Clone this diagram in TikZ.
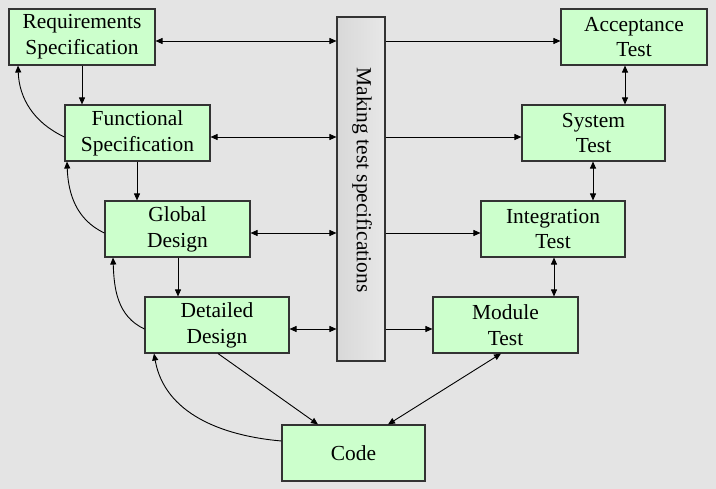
\documentclass[tikz,border=0pt]{standalone}
\usepackage{fontspec}
\setmainfont{Liberation Serif}
\usetikzlibrary{arrows.meta}
\definecolor{bgc}{HTML}{E4E4E4}
\definecolor{boxg}{HTML}{CCFFCC}
\definecolor{barg}{HTML}{D8D8D8}
\tikzset{
  box/.style={draw=black!80, line width=1.1bp, fill=boxg, align=center, font=\fontsize{21.5}{26}\selectfont, inner sep=0pt},
  con/.style={line width=0.9bp, -{Triangle[length=7bp,width=6bp]}},
  bicon/.style={line width=0.9bp, {Triangle[length=7bp,width=6bp]}-{Triangle[length=7bp,width=6bp]}},
}
\newcommand{\mybox}[6]{\node[box, minimum width={(#4-#2)*1bp}, minimum height={(#5-#3)*1bp}] (#1) at ({(#2+#4)/2},{(#3+#5)/2}) {#6};}
\begin{document}
\begin{tikzpicture}[x=1bp,y=-1bp]
\fill[bgc] (0,0) rectangle (716,489);
\useasboundingbox (0,0) rectangle (716,489);
\mybox{req}{9}{9}{155}{65}{Requirements\\Specification}
\mybox{func}{65}{105}{210}{161}{Functional\\Specification}
\mybox{glob}{105}{201}{250}{257}{Global\\Design}
\mybox{det}{145}{297}{289}{353}{Detailed\\Design}
\mybox{code}{282}{425}{425}{481}{Code}
\mybox{mod}{433}{297}{578}{353}{Module\\Test}
\mybox{integ}{481}{201}{625}{257}{Integration\\Test}
\mybox{sys}{522}{105}{665}{161}{System\\Test}
\mybox{acc}{561}{9}{707}{65}{Acceptance\\Test}
\node[draw=black!80, line width=1.1bp, left color=barg, right color=barg!60, minimum width=48bp, minimum height=344bp, inner sep=0pt] (bar) at (361,189) {};
\node[rotate=-90, font=\fontsize{21.5}{26}\selectfont] (bartxt) at (362,180) {Making test specifications};
% left side to bar
\draw[bicon] (req.east |- 0,41) -- (bar.west |- 0,41);
\draw[bicon] (func.east |- 0,137) -- (bar.west |- 0,137);
\draw[bicon] (glob.east |- 0,233) -- (bar.west |- 0,233);
\draw[bicon] (det.east |- 0,329) -- (bar.west |- 0,329);
% bar to tests
\draw[con] (bar.east |- 0,41) -- (acc.west |- 0,41);
\draw[con] (bar.east |- 0,137) -- (sys.west |- 0,137);
\draw[con] (bar.east |- 0,233) -- (integ.west |- 0,233);
\draw[con] (bar.east |- 0,329) -- (mod.west |- 0,329);
% down the left
\draw[con] (req.south -| 82,0) -- (func.north -| 82,0);
\draw[con] (func.south -| 137,0) -- (glob.north -| 137,0);
\draw[con] (glob.south -| 178,0) -- (det.north -| 178,0);
\draw[con] (det.south -| 218,0) -- (code.north -| 318,0);
% feedback curves
\draw[con] (func.west |- 0,137) to[out=155,in=-88] (req.south -| 18,0);
\draw[con] (glob.west |- 0,233) to[out=155,in=-88] (func.south -| 67,0);
\draw[con] (det.west |- 0,329) to[out=155,in=-88] (glob.south -| 113,0);
\draw[con] (code.west |- 0,441) to[out=175,in=-80] (det.south -| 154,0);
% up the right
\draw[bicon] (code.north -| 388,0) -- (mod.south -| 501,0);
\draw[bicon] (mod.north -| 554,0) -- (integ.south -| 554,0);
\draw[bicon] (integ.north -| 593,0) -- (sys.south -| 593,0);
\draw[bicon] (sys.north -| 625,0) -- (acc.south -| 625,0);
\end{tikzpicture}
\end{document}
